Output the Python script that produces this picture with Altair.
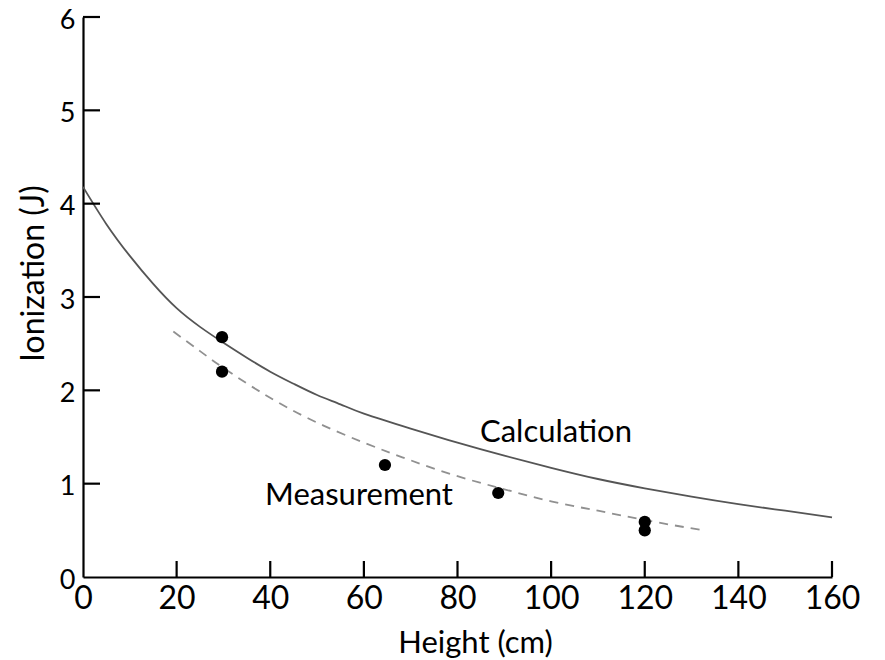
import altair as alt
import pandas as pd

# Calculation curve (solid)
calc_x = [0, 5, 10, 15, 20, 25, 30, 35, 40, 45, 50, 55, 60, 70, 80, 90, 100, 110, 120, 130, 140, 150, 160]
calc_y = [4.18, 3.78, 3.44, 3.14, 2.88, 2.68, 2.51, 2.35, 2.20, 2.07, 1.95, 1.85, 1.75, 1.59, 1.44, 1.30, 1.17, 1.05, 0.95, 0.86, 0.78, 0.71, 0.64]

# Measurement fit curve (dashed)
meas_x = [19.3, 25, 30, 38, 48.5, 60, 70, 80, 90, 100, 110, 120, 132.5]
meas_y = [2.63, 2.42, 2.24, 1.98, 1.69, 1.44, 1.25, 1.08, 0.94, 0.81, 0.71, 0.61, 0.50]

# Measured points
pt_x = [29.7, 29.7, 64.5, 88.7, 120, 120]
pt_y = [2.57, 2.20, 1.20, 0.90, 0.59, 0.50]

# Annotations
ann_text = ["Calculation", "Measurement"]
ann_x = [84.8, 38.9]
ann_y = [1.45, 0.77]

x_ticks = [0, 20, 40, 60, 80, 100, 120, 140, 160]
y_ticks = [0, 1, 2, 3, 4, 5, 6]

FONT = "Lato"
W, H = 749, 560

xs = alt.Scale(domain=[0, 160], nice=False, zero=False)
ys = alt.Scale(domain=[0, 6], nice=False, zero=False)

calc_df = pd.DataFrame({"x": calc_x, "y": calc_y})
meas_df = pd.DataFrame({"x": meas_x, "y": meas_y})
pt_df = pd.DataFrame({"x": pt_x, "y": pt_y})
ann_df = pd.DataFrame({"t": ann_text, "x": ann_x, "y": ann_y})
xt_df = pd.DataFrame({"x": [v for v in x_ticks if v != 0]})
yt_df = pd.DataFrame({"y": [v for v in y_ticks if v != 0]})

x_axis = alt.Axis(
    values=x_ticks, format="d", title="Height (cm)", grid=False, ticks=False, tickSize=0,
    labelFont=FONT, labelFontSize=32, labelColor="black", labelPadding=6, labelFlush=False,
    labelOverlap=False, domainColor="black", domainWidth=2.2,
    titleFont=FONT, titleFontSize=31, titleFontWeight="normal", titleColor="black",
    titleX=392, titleY=75, titleBaseline="alphabetic",
)
y_axis = alt.Axis(
    values=y_ticks, format="d", title="Ionization (J)", grid=False, ticks=False, tickSize=0,
    labelFont=FONT, labelFontSize=27, labelColor="black", labelPadding=8, labelFlush=False,
    labelOffset=3, labelOverlap=False, domainColor="black", domainWidth=2.2,
    titleFont=FONT, titleFontSize=32, titleFontWeight="normal", titleColor="black",
    titleX=-40, titleY=256, titleBaseline="alphabetic", titleAngle=-90,
)

calc = alt.Chart(calc_df).mark_line(color="#555555", strokeWidth=1.8, interpolate="natural").encode(
    x=alt.X("x:Q", scale=xs, axis=x_axis),
    y=alt.Y("y:Q", scale=ys, axis=y_axis),
)
meas = alt.Chart(meas_df).mark_line(color="#909090", strokeWidth=1.8, strokeDash=[9, 7], interpolate="natural").encode(
    x=alt.X("x:Q", scale=xs),
    y=alt.Y("y:Q", scale=ys),
)
pts = alt.Chart(pt_df).mark_circle(color="black", size=150, opacity=1).encode(
    x=alt.X("x:Q", scale=xs),
    y=alt.Y("y:Q", scale=ys),
)
ann = alt.Chart(ann_df).mark_text(font=FONT, fontSize=31, color="black", align="left", baseline="alphabetic").encode(
    x=alt.X("x:Q", scale=xs),
    y=alt.Y("y:Q", scale=ys),
    text="t:N",
)
xt = alt.Chart(xt_df).mark_rule(color="black", strokeWidth=2.2).encode(
    x=alt.X("x:Q", scale=xs),
    y=alt.value(H),
    y2=alt.value(H - 16),
)
yt = alt.Chart(yt_df).mark_rule(color="black", strokeWidth=2.2).encode(
    y=alt.Y("y:Q", scale=ys),
    x=alt.value(0),
    x2=alt.value(17),
)

chart = alt.layer(calc, meas, pts, ann, xt, yt).properties(
    width=W, height=H,
    autosize=alt.AutoSizeParams(type="none"),
    padding={"left": 83, "top": 17, "right": 53, "bottom": 83},
    background="white",
).configure_view(stroke=None)

chart.save("out.html", embed_options={"renderer": "svg", "actions": False})
